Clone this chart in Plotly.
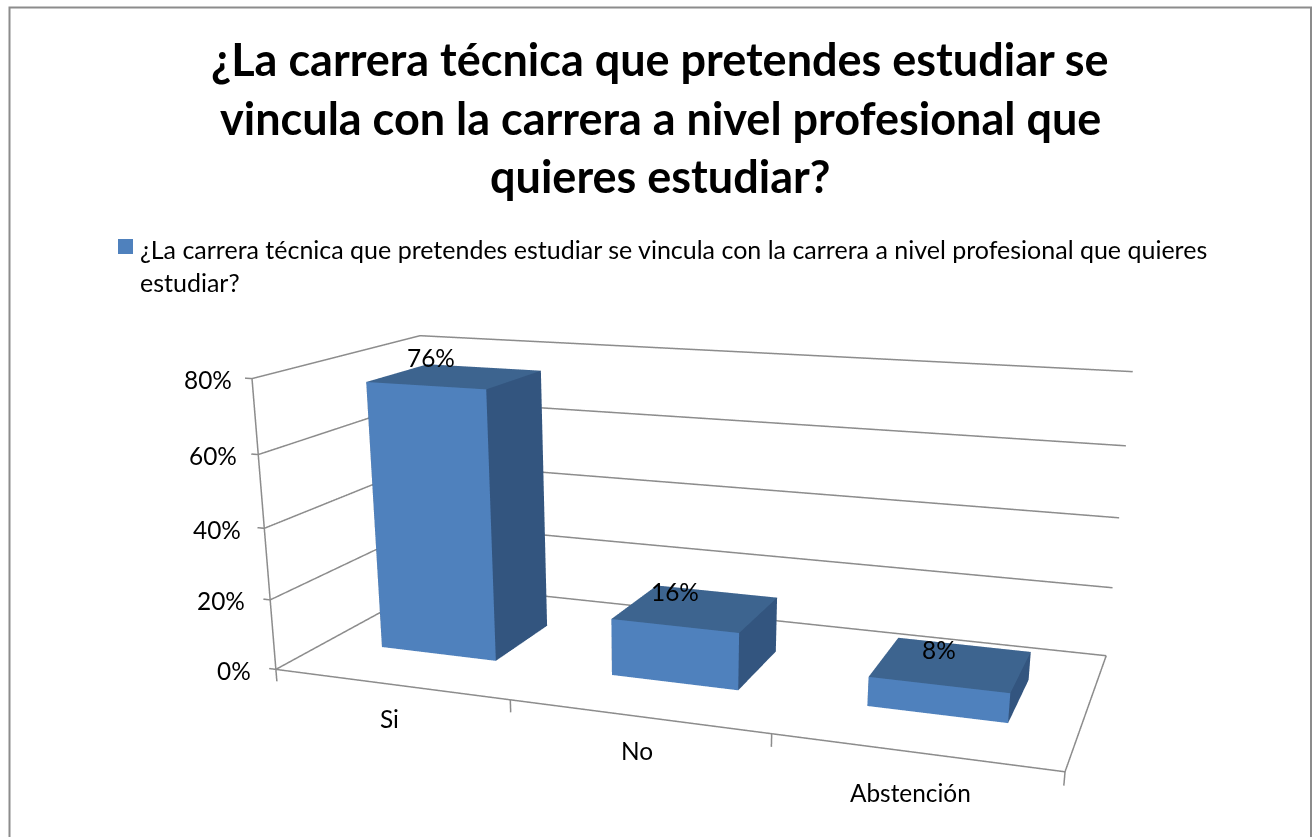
import numpy as np
import plotly.graph_objects as go

categories = ["Si", "No", "Abstención"]
values = [76, 16, 8]
value_labels = ["76%", "16%", "8%"]
z_ticks = [0, 20, 40, 60, 80]
z_tick_labels = ["0%", "20%", "40%", "60%", "80%"]
title_lines = ["¿La carrera técnica que pretendes estudiar se",
               "vincula con la carrera a nivel profesional que",
               "quieres estudiar?"]
legend_lines = ["¿La carrera técnica que pretendes estudiar se vincula con la carrera a nivel profesional que quieres",
                "estudiar?"]

# Scene set-up: plotly's perspective camera has a fixed 45 degree field of view,
# so the figure size sets the focal length and the optical centre.
FW, FH = 1328, 1352
DOMAIN_X = 1327.18 / 1328
RX, RY, RZ = [-0.1, 3.02], [-0.2, 1.02], [-8.0, 82.0]
ASPECT = dict(x=2.52982, y=1.26961, z=1.022727)
EYE = np.array([1.63419, -4.55721, 1.23624])
AZIMUTH, ELEVATION = 1.9236, -0.3332
HALF_BAR, BAR_Y0, BAR_Y1 = 0.2539, 0.3028, 0.6871

look = np.array([np.cos(ELEVATION) * np.cos(AZIMUTH), np.cos(ELEVATION) * np.sin(AZIMUTH), np.sin(ELEVATION)])
CENTER = EYE + look * np.linalg.norm(EYE)

def px(x): return x / FW
def py(y): return 1 - y / FH

FRONT, TOP, SIDE = "#4F81BD", "#3D648F", "#33557F"
LINE = "#8C8C8C"
positions = [i + 0.5 for i in range(len(categories))]

fig = go.Figure()
for c, v in zip(positions, values):
    X = [c - HALF_BAR, c + HALF_BAR, c + HALF_BAR, c - HALF_BAR] * 2
    Y = [BAR_Y0, BAR_Y0, BAR_Y1, BAR_Y1] * 2
    Z = [v] * 4 + [0] * 4
    tri = [(0,1,2,TOP),(0,2,3,TOP),(0,1,5,FRONT),(0,5,4,FRONT),(1,2,6,SIDE),(1,6,5,SIDE),
           (2,3,7,SIDE),(2,7,6,SIDE),(3,0,4,SIDE),(3,4,7,SIDE),(4,5,6,SIDE),(4,6,7,SIDE)]
    fig.add_trace(go.Mesh3d(x=X, y=Y, z=Z, i=[t[0] for t in tri], j=[t[1] for t in tri], k=[t[2] for t in tri],
                            facecolor=[t[3] for t in tri], flatshading=True, hoverinfo="skip",
                            lighting=dict(ambient=1, diffuse=0, specular=0, roughness=1, fresnel=0)))

def seg(xs, ys, zs):
    fig.add_trace(go.Scatter3d(x=xs, y=ys, z=zs, mode="lines", line=dict(color=LINE, width=3),
                               hoverinfo="skip", showlegend=False))

n = len(categories)
seg([0, 0], [0, 0], [z_ticks[0], z_ticks[-1]])
seg([0, n, n], [0, 0, 1], [0, 0, 0])
for t in z_ticks:
    seg([-0.03, 0, 0, n], [0, 0, 1, 1], [t, t, t, t])
for k in range(n + 1):
    seg([k, k], [0, 0], [0, -3.5])

noaxis = dict(showbackground=False, showticklabels=False, title="", showspikes=False, zeroline=False,
              showline=False, showgrid=False, ticks="", tickvals=[])
font = dict(family="Lato", size=24.4, color="black")
ann3d = []
for c, v, t, dx, dy in zip(positions, values, value_labels, [-24, -21, -13], [19, 17, 15]):
    ann3d.append(dict(x=c, y=(BAR_Y0 + BAR_Y1) / 2, z=v, text=t, showarrow=False, xshift=dx, yshift=dy, font=font))
for c, t, dx, dy in zip(positions, categories, [-1, 0, -4], [-34, -34, -40]):
    ann3d.append(dict(x=c, y=0, z=0, text=t, showarrow=False, xshift=dx, yshift=dy, font=font))
for z, t, dx in zip(z_ticks, z_tick_labels, [-23, -23, -21, -19, -18]):
    ann3d.append(dict(x=0, y=0, z=z, text=t, showarrow=False, xanchor="right", xshift=dx, yshift=-1, font=font))

fig.update_layout(
    width=FW, height=FH, margin=dict(l=0, r=0, t=0, b=0), paper_bgcolor="white", showlegend=False,
    scene=dict(domain=dict(x=[0, DOMAIN_X], y=[0, 1]), aspectmode="manual", aspectratio=ASPECT,
               camera=dict(eye=dict(x=EYE[0], y=EYE[1], z=EYE[2]),
                           center=dict(x=CENTER[0], y=CENTER[1], z=CENTER[2]), up=dict(x=0, y=0, z=1)),
               xaxis=dict(noaxis, range=RX), yaxis=dict(noaxis, range=RY), zaxis=dict(noaxis, range=RZ),
               annotations=ann3d),
    annotations=
    [dict(x=px(660), y=py(yy), xref="paper", yref="paper", text=f"<b>{t}</b>", showarrow=False,
          xanchor="center", yanchor="middle", font=dict(family="Lato", size=45, color="black"))
     for t, yy in zip(title_lines, [59, 118, 176])] +
    [dict(x=px(138), y=py(yy), xref="paper", yref="paper", text=t, showarrow=False,
          xanchor="left", yanchor="middle", font=dict(family="Lato", size=25, color="black"))
     for t, yy in zip(legend_lines, [249, 282])],
    shapes=[dict(type="rect", x0=px(118), x1=px(133), y0=py(254), y1=py(239), xref="paper", yref="paper",
                 line_width=0, fillcolor=FRONT),
            dict(type="path", path=f"M {px(9.5)} {py(900)} L {px(9.5)} {py(7.5)} L {px(1311)} {py(7.5)} L {px(1311)} {py(900)}",
                 xref="paper", yref="paper", line=dict(color=LINE, width=2))],
)
fig.write_html("out.html", config=dict(displayModeBar=False),
               post_script="document.documentElement.style.overflow='hidden';document.body.style.margin='0';document.body.style.overflow='hidden';")
